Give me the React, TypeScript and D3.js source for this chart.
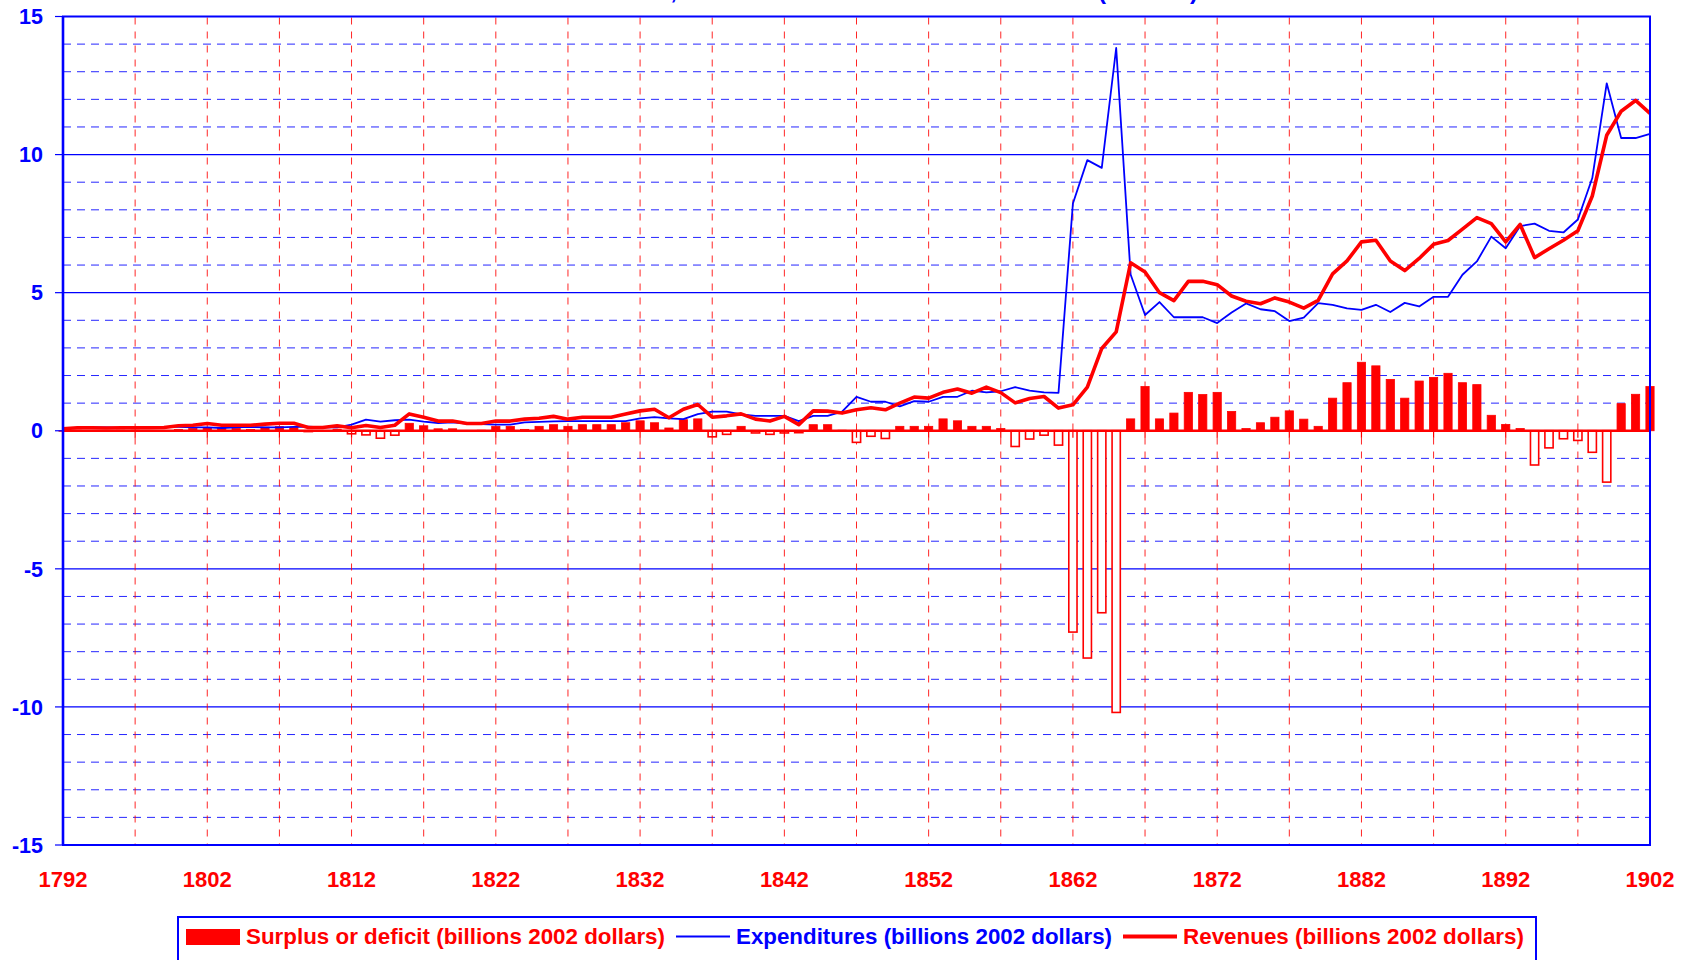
import * as d3 from "d3";

// Federal finances 1792-1902, billions of 2002 dollars
const firstYear = 1792;
const lastYear = 1902;

const expenditures = [
  0.1, 0.1, 0.12, 0.12, 0.1, 0.1, 0.12, 0.14, 0.14, 0.12,
  0.12, 0.1, 0.12, 0.14, 0.12, 0.12, 0.14, 0.15, 0.12, 0.12,
  0.22, 0.4, 0.33, 0.38, 0.4, 0.33, 0.28, 0.3, 0.26, 0.24,
  0.22, 0.22, 0.3, 0.32, 0.34, 0.35, 0.35, 0.35, 0.35, 0.35,
  0.45, 0.49, 0.45, 0.42, 0.6, 0.69, 0.69, 0.59, 0.54, 0.54,
  0.54, 0.35, 0.54, 0.54, 0.69, 1.23, 1.05, 1.05, 0.88, 1.07,
  1.05, 1.23, 1.23, 1.45, 1.39, 1.43, 1.58, 1.45, 1.39, 1.37,
  8.23, 9.8, 9.52, 13.86, 5.66, 4.19, 4.66, 4.11, 4.11, 4.11,
  3.9, 4.28, 4.61, 4.4, 4.33, 3.97, 4.1, 4.62, 4.56, 4.43,
  4.38, 4.56, 4.3, 4.63, 4.5, 4.85, 4.85, 5.65, 6.13, 7.03,
  6.61, 7.41, 7.5, 7.24, 7.18, 7.65, 9.15, 12.58, 10.6, 10.6,
  10.75,
];

const revenues = [
  0.07, 0.11, 0.11, 0.1, 0.11, 0.11, 0.11, 0.12, 0.18, 0.2,
  0.26, 0.2, 0.2, 0.2, 0.24, 0.27, 0.27, 0.12, 0.12, 0.18,
  0.11, 0.19, 0.12, 0.2, 0.61, 0.49, 0.35, 0.35, 0.26, 0.26,
  0.35, 0.35, 0.42, 0.45, 0.52, 0.42, 0.49, 0.49, 0.49, 0.61,
  0.72, 0.78, 0.47, 0.78, 0.95, 0.49, 0.54, 0.61, 0.42, 0.35,
  0.52, 0.22, 0.72, 0.71, 0.64, 0.76, 0.83, 0.76, 1.0, 1.22,
  1.18, 1.39, 1.51, 1.36, 1.58, 1.38, 1.01, 1.17, 1.24, 0.82,
  0.94, 1.58, 2.98, 3.58, 6.08, 5.75, 5.0, 4.71, 5.41, 5.41,
  5.29, 4.88, 4.69, 4.6, 4.81, 4.66, 4.44, 4.72, 5.68, 6.15,
  6.84, 6.9, 6.15, 5.8, 6.24, 6.75, 6.89, 7.3, 7.72, 7.5,
  6.84, 7.47, 6.27, 6.59, 6.9, 7.24, 8.5, 10.7, 11.57, 11.96,
  11.49,
];

const surplus = [
  0.0, 0.02, 0.0, 0.0, 0.02, 0.02, 0.0, 0.0, 0.05, 0.08,
  0.12, 0.1, 0.08, 0.05, 0.13, 0.15, 0.12, -0.03, 0.0, 0.06,
  -0.11, -0.15, -0.27, -0.16, 0.27, 0.18, 0.07, 0.07, 0.01, 0.02,
  0.16, 0.16, 0.05, 0.16, 0.22, 0.16, 0.22, 0.22, 0.22, 0.29,
  0.36, 0.29, 0.1, 0.4, 0.43, -0.22, -0.13, 0.16, -0.08, -0.13,
  -0.08, -0.07, 0.22, 0.22, 0.02, -0.42, -0.2, -0.28, 0.16, 0.16,
  0.16, 0.43, 0.36, 0.16, 0.16, 0.08, -0.57, -0.3, -0.16, -0.52,
  -7.29, -8.23, -6.59, -10.2, 0.43, 1.6, 0.43, 0.64, 1.39, 1.31,
  1.39, 0.7, 0.08, 0.29, 0.49, 0.72, 0.42, 0.16, 1.18, 1.74,
  2.48, 2.35, 1.86, 1.18, 1.8, 1.93, 2.08, 1.74, 1.67, 0.56,
  0.23, 0.08, -1.24, -0.62, -0.29, -0.35, -0.78, -1.86, 0.98, 1.32,
  1.6,
];

const yearTicks = d3.range(1792, 1903, 10);
const gridYears = d3.range(1797, 1902, 5);
const valueTicks = [15, 10, 5, 0, -5, -10, -15];
const legendLabels = [
  "Surplus or deficit (billions 2002 dollars)",
  "Expenditures (billions 2002 dollars)",
  "Revenues (billions 2002 dollars)",
];

const BLUE = "#0000ff";
const RED = "#ff0000";
const FONT = "'Liberation Sans', Arial, sans-serif";

export default function App() {
  const width = 1688;
  const height = 960;
  const left = 63;
  const right = 1650;
  const top = 16.5;
  const bottom = 845;

  const years = d3.range(firstYear, lastYear + 1);
  const x = d3.scaleLinear().domain([firstYear, lastYear]).range([left, right]);
  const y = d3.scaleLinear().domain([-15, 15]).range([bottom, top]);
  const barW = (x(1793) - x(1792)) * 0.57;

  const line = d3
    .line<number>()
    .x((_, i) => x(years[i]))
    .y((d) => y(d));

  const minorLines = d3.range(-14, 15).filter((v) => v % 5 !== 0);

  return (
    <svg
      width={width}
      height={height}
      style={{ position: "absolute", left: 0, top: 0, background: "#fff" }}
      fontFamily={FONT}
      fontWeight="bold"
    >
      {/* title, almost entirely above the picture */}
      <text x={677} y={-1.5} fill={BLUE} fontSize={24} textAnchor="end">
        Federal Finances,
      </text>
      <text x={888} y={-1.5} fill={BLUE} fontSize={24} textAnchor="middle">
        Revenues and Deficits in 2002 Dollars
      </text>
      <text x={1098} y={-1.5} fill={BLUE} fontSize={24}>
        (billions)
      </text>

      {/* horizontal grid */}
      {minorLines.map((v) => (
        <line key={"h" + v} x1={left} x2={right} y1={y(v)} y2={y(v)}
          stroke={BLUE} strokeWidth={1} strokeDasharray="8,6" opacity={0.85} />
      ))}
      {[10, 5, -5, -10].map((v) => (
        <line key={"s" + v} x1={left} x2={right} y1={y(v)} y2={y(v)}
          stroke={BLUE} strokeWidth={1.2} />
      ))}

      {/* vertical grid */}
      {gridYears.map((yr) => (
        <line key={"v" + yr} x1={x(yr)} x2={x(yr)} y1={top + 1} y2={bottom}
          stroke={RED} strokeWidth={1} strokeDasharray="7,7" opacity={0.85} />
      ))}

      {/* surplus / deficit bars */}
      {surplus.map((v, i) => {
        const y0 = y(0);
        const y1 = y(v);
        return (
          <rect
            key={"b" + i}
            x={x(years[i]) - barW / 2}
            y={Math.min(y0, y1)}
            width={barW}
            height={Math.max(Math.abs(y1 - y0), 0.5)}
            fill={v >= 0 ? RED : "#fff"}
            stroke={RED}
            strokeWidth={v >= 0 ? 0.8 : 1.6}
          />
        );
      })}

      {/* zero axis and its ticks */}
      <line x1={left} x2={right} y1={y(0)} y2={y(0)} stroke={RED} strokeWidth={2.5} />
      {[1792, ...gridYears, 1902].map((yr) => (
        <line key={"t" + yr} x1={x(yr)} x2={x(yr)} y1={y(0)} y2={y(0) + 7}
          stroke={RED} strokeWidth={1.2} />
      ))}

      {/* series lines */}
      <path d={line(expenditures) ?? ""} fill="none" stroke={BLUE} strokeWidth={1.8}
        strokeLinejoin="round" />
      <path d={line(revenues) ?? ""} fill="none" stroke={RED} strokeWidth={3.6}
        strokeLinejoin="round" />

      {/* plot frame */}
      <rect x={left} y={top} width={right - left} height={bottom - top}
        fill="none" stroke={BLUE} strokeWidth={2} />
      <line x1={left} x2={left} y1={top} y2={bottom} stroke={BLUE} strokeWidth={2.6} />

      {/* y axis */}
      {valueTicks.map((v) => (
        <g key={"y" + v}>
          <line x1={left - 8} x2={left} y1={y(v)} y2={y(v)} stroke={BLUE} strokeWidth={1.2} />
          <text x={43} y={y(v)} dy="0.36em" fill={BLUE} fontSize={21.5} textAnchor="end">
            {v}
          </text>
        </g>
      ))}

      {/* x axis labels */}
      {yearTicks.map((yr) => (
        <text key={"x" + yr} x={x(yr)} y={887} fill={RED} fontSize={22}
          textAnchor="middle">
          {yr}
        </text>
      ))}

      {/* legend */}
      <rect x={178} y={917} width={1358} height={60} fill="#fff" stroke={BLUE} strokeWidth={2} />
      <rect x={186} y={929} width={54} height={16} fill={RED} />
      <text x={246} y={944} fill={RED} fontSize={22} textLength={419}
        lengthAdjust="spacingAndGlyphs">
        {legendLabels[0]}
      </text>
      <line x1={676} x2={730} y1={936.5} y2={936.5} stroke={BLUE} strokeWidth={2} />
      <text x={736} y={944} fill={BLUE} fontSize={22} textLength={376}
        lengthAdjust="spacingAndGlyphs">
        {legendLabels[1]}
      </text>
      <line x1={1123} x2={1177} y1={936.5} y2={936.5} stroke={RED} strokeWidth={4} />
      <text x={1183} y={944} fill={RED} fontSize={22} textLength={341}
        lengthAdjust="spacingAndGlyphs">
        {legendLabels[2]}
      </text>
    </svg>
  );
}
